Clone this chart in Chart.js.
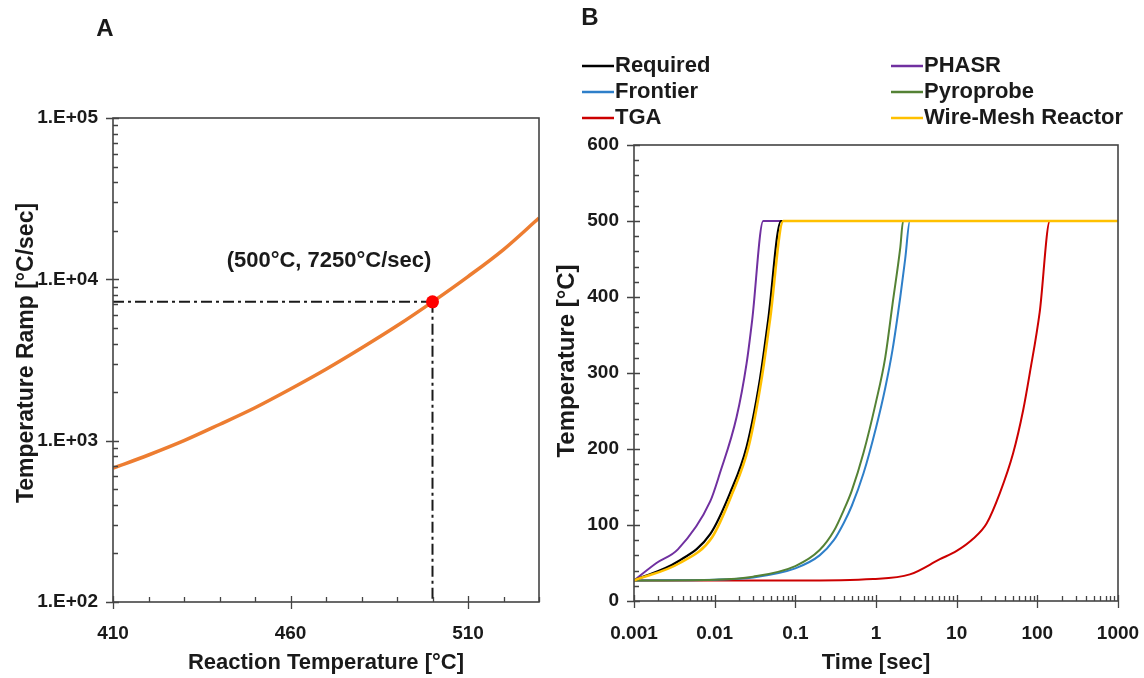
<!DOCTYPE html>
<html>
<head>
<meta charset="utf-8">
<title>Heating rate requirements</title>
<script src="https://cdn.jsdelivr.net/npm/chart.js@4.4.1/dist/chart.umd.min.js"></script>
<style>
    html, body { margin: 0; padding: 0; background: #fff; }
    #wrap { position: relative; width: 1144px; height: 678px; overflow: hidden; }
    #chartA { position: absolute; left: 0; top: 0; }
    #chartB { position: absolute; left: 545px; top: 0; }
</style>
</head>
<body>
<div id="wrap">
    <canvas id="chartA" width="560" height="678"></canvas>
    <canvas id="chartB" width="599" height="678"></canvas>
</div>
<script>
// Panel A: temperature ramp needed to reach a given reaction temperature
const rxnTemp = [410, 420, 430, 440, 450, 460, 470, 480, 490, 500, 510, 520, 530];
const rampRate = [675, 815, 1000, 1260, 1600, 2090, 2770, 3750, 5150, 7250, 10400, 15300, 24000];
const targetTemp = 500;
const targetRamp = 7250;
const rxnTempTicks = [410, 460, 510];
const rampTicks = [100, 1000, 10000, 100000];
const rampTickLabels = ["1.E+02", "1.E+03", "1.E+04", "1.E+05"];

// Panel B: heating profiles of each reactor type
const timeTicks = [0.001, 0.01, 0.1, 1, 10, 100, 1000];
const timeTickLabels = ["0.001", "0.01", "0.1", "1", "10", "100", "1000"];
const tempTicks = [0, 100, 200, 300, 400, 500, 600];

const requiredTime = [0.001, 0.0035, 0.0088, 0.0155, 0.0249, 0.0363, 0.0461, 0.0664, 1000];
const requiredTemp = [27, 52, 88, 142, 203, 291, 370, 500, 500];

const phasrTime = [0.001, 0.0019, 0.0035, 0.0088, 0.0116, 0.0187, 0.0249, 0.0292, 0.04, 1000];
const phasrTemp = [27, 50, 68, 131, 168, 242, 313, 370, 500, 500];

const frontierTime = [0.001, 0.01, 0.03, 0.1, 0.2, 0.3, 0.4, 0.5, 0.7, 1.0, 1.3, 1.6, 2.0, 2.3, 2.63, 1000];
const frontierTemp = [27, 28, 31, 43, 60, 80, 103, 125, 168, 228, 280, 330, 400, 450, 500, 500];

const pyroprobeTime = [0.001, 0.01, 0.03, 0.1, 0.2, 0.3, 0.4, 0.5, 0.7, 1.0, 1.3, 1.6, 2.0, 2.17, 1000];
const pyroprobeTemp = [27, 28, 32, 46, 67, 92, 120, 145, 195, 262, 320, 390, 465, 500, 500];

const tgaTime = [0.001, 0.1, 0.92, 2.63, 6.2, 10, 16, 23.5, 34.3, 50, 66.7, 80.7, 107, 143, 1000];
const tgaTemp = [27, 27, 29, 35, 55, 66, 82, 102, 142, 194, 251, 300, 380, 500, 500];

const wireMeshTime = [0.001, 0.0037, 0.0093, 0.0163, 0.0262, 0.038, 0.0485, 0.071, 1000];
const wireMeshTemp = [27, 50, 84, 140, 202, 291, 370, 500, 500];

const legendColumns = [
    ["Required", "Frontier", "TGA"],
    ["PHASR", "Pyroprobe", "Wire-Mesh Reactor"],
];

const FONT = "'Liberation Sans', Arial, sans-serif";
const INK = "#1a1a1a";
const AXIS = "#444444";

function toPoints(xs, ys) {
    return xs.map((x, i) => ({ x: x, y: ys[i] }));
}

// minor tick positions between decades (2..9 x 10^n)
function logMinor(loExp, hiExp) {
    const out = [];
    for (let e = loExp; e < hiExp; e++) {
        for (let k = 2; k <= 9; k++) out.push(k * Math.pow(10, e));
    }
    return out;
}

function linMinor(min, max, step) {
    const out = [];
    for (let v = min; v <= max; v += step) out.push(v);
    return out;
}

// keep the plot area where layout.padding puts it (no room for edge labels)
function noEdgePadding(s) {
    s.paddingLeft = 0;
    s.paddingRight = 0;
}

/**
 * Draws the plot frame plus the major (crossing) and minor (inward) tick marks
 */
const frameTicks = {
    id: "frameTicks",
    afterDatasetsDraw(chart, args, opts) {
        const { ctx, chartArea: a, scales } = chart;
        ctx.save();
        ctx.strokeStyle = AXIS;
        ctx.lineWidth = 1.6;
        ctx.strokeRect(a.left, a.top, a.right - a.left, a.bottom - a.top);
        ctx.lineWidth = 1.3;
        ctx.beginPath();
        opts.xMajor.forEach((v) => {
            const px = Math.round(scales.x.getPixelForValue(v)) + 0.5;
            ctx.moveTo(px, a.bottom - 6);
            ctx.lineTo(px, a.bottom + 7);
        });
        opts.xMinor.forEach((v) => {
            const px = Math.round(scales.x.getPixelForValue(v)) + 0.5;
            ctx.moveTo(px, a.bottom - 5);
            ctx.lineTo(px, a.bottom);
        });
        opts.yMajor.forEach((v) => {
            const py = Math.round(scales.y.getPixelForValue(v)) + 0.5;
            ctx.moveTo(a.left - 7, py);
            ctx.lineTo(a.left + 6, py);
        });
        opts.yMinor.forEach((v) => {
            const py = Math.round(scales.y.getPixelForValue(v)) + 0.5;
            ctx.moveTo(a.left, py);
            ctx.lineTo(a.left + 5, py);
        });
        ctx.stroke();
        ctx.restore();
    },
};

/**
 * Panel letter, vertical axis title and an optional free text note
 */
const panelText = {
    id: "panelText",
    afterDraw(chart, args, opts) {
        const ctx = chart.ctx;
        ctx.save();
        ctx.fillStyle = INK;
        ctx.textAlign = "center";
        ctx.textBaseline = "middle";
        ctx.font = "bold 24px " + FONT;
        ctx.fillText(opts.letter, opts.letterX, opts.letterY);
        if (opts.note) {
            ctx.font = "bold 22px " + FONT;
            ctx.fillText(opts.note, opts.noteX, opts.noteY);
        }
        ctx.translate(opts.yTitleX, opts.yTitleY);
        ctx.rotate(-Math.PI / 2);
        ctx.font = "bold " + opts.yTitleSize + "px " + FONT;
        ctx.fillText(opts.yTitle, 0, 0);
        ctx.restore();
    },
};

/**
 * Two-column legend above panel B
 */
const columnLegend = {
    id: "columnLegend",
    afterDraw(chart, args, opts) {
        const ctx = chart.ctx;
        ctx.save();
        ctx.font = "bold 22px " + FONT;
        ctx.textBaseline = "middle";
        ctx.textAlign = "left";
        opts.columns.forEach((col, c) => {
            const x0 = opts.colX[c];
            col.forEach((label, r) => {
                const ds = chart.data.datasets.find((d) => d.label === label);
                const y = opts.rowY[r];
                ctx.strokeStyle = ds.borderColor;
                ctx.lineWidth = 2.5;
                ctx.beginPath();
                ctx.moveTo(x0, y);
                ctx.lineTo(x0 + 32, y);
                ctx.stroke();
                ctx.fillStyle = INK;
                ctx.fillText(label, x0 + 33, y);
            });
        });
        ctx.restore();
    },
};

const tickFont = { family: FONT, size: 19, weight: "bold" };
const titleFont = { family: FONT, size: 22, weight: "bold" };

// Panel A
new Chart(document.getElementById("chartA"), {
    type: "line",
    data: {
        datasets: [
            {
                label: "Temperature Ramp",
                data: toPoints(rxnTemp, rampRate),
                borderColor: "#ED7D31",
                borderWidth: 3.5,
                pointRadius: 0,
                cubicInterpolationMode: "monotone",
                order: 3,
            },
            {
                label: "Ramp guide",
                data: [
                    { x: rxnTemp[0], y: targetRamp },
                    { x: targetTemp, y: targetRamp },
                ],
                borderColor: INK,
                borderWidth: 2,
                borderDash: [11, 4, 3, 4],
                pointRadius: 0,
                order: 2,
            },
            {
                label: "Temperature guide",
                data: [
                    { x: targetTemp, y: targetRamp },
                    { x: targetTemp, y: rampTicks[0] },
                ],
                borderColor: INK,
                borderWidth: 2,
                borderDash: [11, 4, 3, 4],
                pointRadius: 0,
                order: 2,
            },
            {
                label: "Operating point",
                data: [{ x: targetTemp, y: targetRamp }],
                showLine: false,
                pointRadius: 6.5,
                pointBackgroundColor: "#FF0000",
                pointBorderWidth: 0,
                order: 0,
            },
        ],
    },
    options: {
        responsive: false,
        animation: false,
        layout: { padding: { top: 118, right: 21, left: 0, bottom: 0 } },
        plugins: {
            legend: { display: false },
            tooltip: { enabled: false },
            frameTicks: {
                xMajor: rxnTempTicks,
                xMinor: linMinor(420, 530, 10),
                yMajor: rampTicks,
                yMinor: logMinor(2, 5),
            },
            panelText: {
                letter: "A",
                letterX: 105,
                letterY: 29,
                note: "(" + targetTemp + "°C, " + targetRamp + "°C/sec)",
                noteX: 329,
                noteY: 261,
                yTitle: "Temperature Ramp [°C/sec]",
                yTitleX: 27,
                yTitleY: 353,
                yTitleSize: 23,
            },
        },
        scales: {
            x: {
                type: "linear",
                min: 410,
                max: 530,
                afterBuildTicks: (s) => {
                    s.ticks = rxnTempTicks.map((v) => ({ value: v }));
                },
                afterFit: (s) => {
                    s.height = 76;
                    noEdgePadding(s);
                },
                grid: { display: false, drawTicks: false },
                border: { display: false },
                ticks: {
                    padding: 20,
                    color: INK,
                    font: tickFont,
                    autoSkip: false,
                    maxRotation: 0,
                },
                title: {
                    display: true,
                    text: "Reaction Temperature [°C]",
                    color: INK,
                    font: titleFont,
                    padding: { top: 0, bottom: 2 },
                },
            },
            y: {
                type: "logarithmic",
                min: 100,
                max: 100000,
                afterBuildTicks: (s) => {
                    s.ticks = rampTicks.map((v) => ({ value: v }));
                },
                afterFit: (s) => {
                    s.width = 113;
                },
                grid: { display: false, drawTicks: false },
                border: { display: false },
                ticks: {
                    padding: 15,
                    color: INK,
                    font: tickFont,
                    autoSkip: false,
                    callback: (value, index) => rampTickLabels[index],
                },
            },
        },
    },
    plugins: [frameTicks, panelText],
});

// Panel B
const profileSeries = [
    { label: "Required", time: requiredTime, temp: requiredTemp, color: "#000000", width: 2.2, order: 2 },
    { label: "PHASR", time: phasrTime, temp: phasrTemp, color: "#7030A0", width: 2, order: 3 },
    { label: "Frontier", time: frontierTime, temp: frontierTemp, color: "#2E7FC9", width: 2, order: 5 },
    { label: "Pyroprobe", time: pyroprobeTime, temp: pyroprobeTemp, color: "#548235", width: 2, order: 4 },
    { label: "TGA", time: tgaTime, temp: tgaTemp, color: "#CC0000", width: 2, order: 6 },
    { label: "Wire-Mesh Reactor", time: wireMeshTime, temp: wireMeshTemp, color: "#FFC000", width: 2.6, order: 1 },
];

new Chart(document.getElementById("chartB"), {
    type: "line",
    data: {
        datasets: profileSeries.map((s) => ({
            label: s.label,
            data: toPoints(s.time, s.temp),
            borderColor: s.color,
            borderWidth: s.width,
            pointRadius: 0,
            cubicInterpolationMode: "monotone",
            order: s.order,
        })),
    },
    options: {
        responsive: false,
        animation: false,
        layout: { padding: { top: 145, right: 26, left: 0, bottom: 0 } },
        plugins: {
            legend: { display: false },
            tooltip: { enabled: false },
            frameTicks: {
                xMajor: timeTicks,
                xMinor: logMinor(-3, 3),
                yMajor: tempTicks,
                yMinor: linMinor(20, 580, 20),
            },
            panelText: {
                letter: "B",
                letterX: 45,
                letterY: 18,
                yTitle: "Temperature [°C]",
                yTitleX: 22,
                yTitleY: 361,
                yTitleSize: 24,
            },
            columnLegend: {
                columns: legendColumns,
                colX: [37, 346],
                rowY: [66, 92, 118],
            },
        },
        scales: {
            x: {
                type: "logarithmic",
                min: 0.001,
                max: 1000,
                afterBuildTicks: (s) => {
                    s.ticks = timeTicks.map((v) => ({ value: v }));
                },
                afterFit: (s) => {
                    s.height = 77;
                    noEdgePadding(s);
                },
                grid: { display: false, drawTicks: false },
                border: { display: false },
                ticks: {
                    padding: 21,
                    color: INK,
                    font: tickFont,
                    autoSkip: false,
                    maxRotation: 0,
                    callback: (value, index) => timeTickLabels[index],
                },
                title: {
                    display: true,
                    text: "Time [sec]",
                    color: INK,
                    font: titleFont,
                    padding: { top: 0, bottom: 2 },
                },
            },
            y: {
                type: "linear",
                min: 0,
                max: 600,
                afterBuildTicks: (s) => {
                    s.ticks = tempTicks.map((v) => ({ value: v }));
                },
                afterFit: (s) => {
                    s.width = 89;
                },
                grid: { display: false, drawTicks: false },
                border: { display: false },
                ticks: {
                    padding: 15,
                    color: INK,
                    font: tickFont,
                    autoSkip: false,
                },
            },
        },
    },
    plugins: [frameTicks, panelText, columnLegend],
});
</script>
</body>
</html>
